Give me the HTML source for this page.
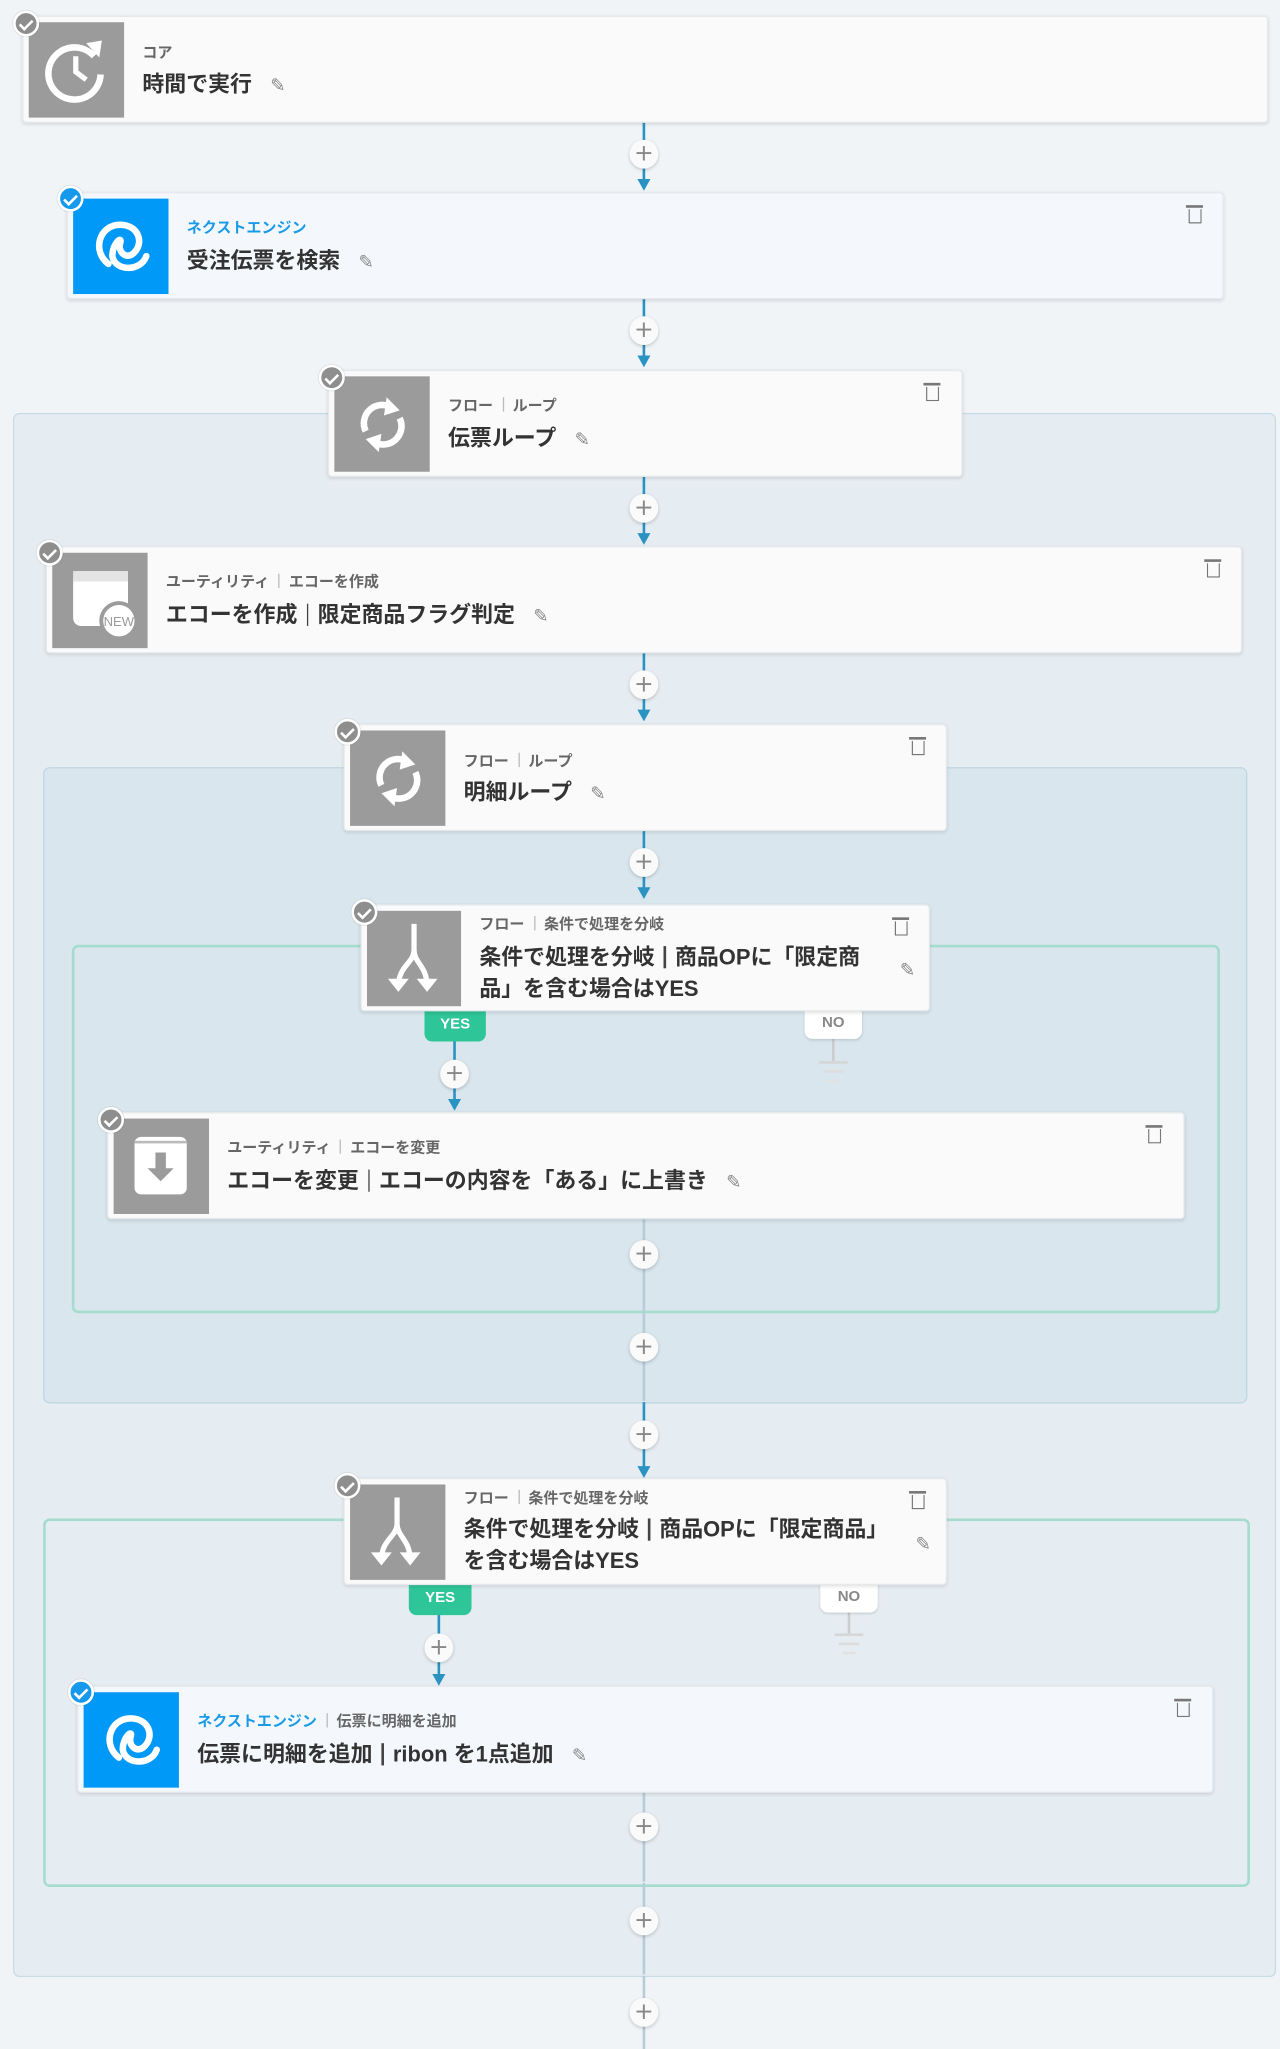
<!DOCTYPE html>
<html><head><meta charset="utf-8">
<style>
html,body{margin:0;padding:0;width:1280px;height:2049px;overflow:hidden;background:#f0f4f7;}
#s{position:absolute;left:0;top:0;width:980px;height:1568px;transform:scale(1.30612,1.30676);transform-origin:0 0;font-family:"Liberation Sans","Noto Sans CJK JP",sans-serif;}
.a{position:absolute;}
.box{position:absolute;border-radius:5px;}
.card{position:absolute;background:#fafafa;border:1px solid #e6e9ec;border-radius:3px;box-shadow:0 1px 3px rgba(0,0,0,0.12);}
.card.ne{background:#f4f8fc;}
.ic{position:absolute;left:4px;top:4px;width:73px;height:73px;background:#9b9b9b;}
.ne .ic{background:#0099f7;}
.sub{position:absolute;font-size:11.5px;color:#666;white-space:nowrap;font-weight:bold;}
.sub .b{color:#1a9be8;}
.sep{display:inline-block;width:1px;height:11px;background:#bbb;margin:0 7px;vertical-align:-1px;}
.tt{position:absolute;font-size:16.8px;color:#333;font-weight:bold;white-space:nowrap;line-height:24px;}
.tsep{display:inline-block;width:1.5px;height:17px;background:#444;margin:0 7px;vertical-align:-3px;}
.pen{color:#888;font-size:14px;font-weight:normal;margin-left:14px;font-family:"DejaVu Sans",sans-serif;}
.tr{position:absolute;width:10px;height:11px;border:1.6px solid #777;border-top:none;border-radius:0 0 1px 1px;box-sizing:border-box;}
.tr:before{content:"";position:absolute;left:-3px;top:-3px;width:13px;height:2px;background:#777;}
.chk{position:absolute;width:20px;height:20px;border-radius:50%;background:#8e8e8e;border:2px solid #fff;box-sizing:border-box;box-shadow:0 0 1px rgba(0,0,0,.3);}
.chk:after{content:"";position:absolute;left:5px;top:3px;width:4px;height:8px;border:solid #fff;border-width:0 2px 2px 0;transform:rotate(45deg);}
.chk.bl{background:#1699ec;}
.ln{position:absolute;width:2px;background:#2a93c2;}
.ln.l{background:#b6ccd8;}
.arr{position:absolute;width:0;height:0;border-left:5px solid transparent;border-right:5px solid transparent;border-top:9px solid #2a93c2;}
.pl{position:absolute;width:22px;height:22px;border-radius:50%;background:#fafafa;box-shadow:0 1px 3px rgba(0,0,0,.2);color:#888;font-size:18px;line-height:21px;text-align:center;font-family:"DejaVu Sans",sans-serif;}
.tag{position:absolute;font-size:11.5px;font-weight:bold;text-align:center;border-radius:0 0 6px 6px;line-height:22px;}
</style></head><body>
<div id="s">
<div class="box" style="left:10px;top:316px;width:965px;height:1195px;background:#e6edf2;border:1.5px solid #c8dbe6;"></div>
<div class="box" style="left:33px;top:587px;width:920px;height:485px;background:#d9e6ee;border:1.5px solid #bfd6e3;"></div>
<div class="box" style="left:55px;top:723px;width:875px;height:278px;background:#d9e6ee;border:2px solid #a5dccd;"></div>
<div class="box" style="left:33px;top:1162px;width:920px;height:278px;background:#e6edf2;border:2px solid #a5dccd;"></div>

<div class="ln" style="left:492px;top:93px;height:48px"></div><div class="arr" style="left:488px;top:137px"></div><div class="pl" style="left:482px;top:107px">+</div>
<div class="ln" style="left:492px;top:227px;height:48px"></div><div class="arr" style="left:488px;top:272px"></div><div class="pl" style="left:482px;top:242px">+</div>
<div class="ln" style="left:492px;top:364px;height:46px"></div><div class="arr" style="left:488px;top:408px"></div><div class="pl" style="left:482px;top:378px">+</div>
<div class="ln" style="left:492px;top:498px;height:48px"></div><div class="arr" style="left:488px;top:543px"></div><div class="pl" style="left:482px;top:513px">+</div>
<div class="ln" style="left:492px;top:634px;height:48px"></div><div class="arr" style="left:488px;top:679px"></div><div class="pl" style="left:482px;top:649px">+</div>
<div class="ln" style="left:347px;top:796px;height:48px"></div><div class="arr" style="left:343px;top:841px"></div><div class="pl" style="left:337px;top:811px">+</div>
<div class="ln l" style="left:492px;top:932px;height:70px"></div><div class="pl" style="left:482px;top:949px">+</div>
<div class="ln l" style="left:492px;top:1002px;height:70px"></div><div class="pl" style="left:482px;top:1020px">+</div>
<div class="ln" style="left:492px;top:1073px;height:52px"></div><div class="arr" style="left:488px;top:1122px"></div><div class="pl" style="left:482px;top:1087px">+</div>
<div class="ln" style="left:335px;top:1235px;height:48px"></div><div class="arr" style="left:331px;top:1281px"></div><div class="pl" style="left:325px;top:1250px">+</div>
<div class="ln l" style="left:492px;top:1370px;height:70px"></div><div class="pl" style="left:482px;top:1387px">+</div>
<div class="ln l" style="left:492px;top:1441px;height:70px"></div><div class="pl" style="left:482px;top:1459px">+</div>
<div class="ln l" style="left:492px;top:1512px;height:56px"></div><div class="pl" style="left:482px;top:1529px">+</div>

<div class="a" style="left:637px;top:795px;width:1.5px;height:17px;background:#ccc"></div>
<div class="a" style="left:627px;top:812px;width:22px;height:2px;background:#d6d6d6"></div>
<div class="a" style="left:630px;top:819px;width:16px;height:2px;background:#ddd"></div>
<div class="a" style="left:633px;top:826px;width:10px;height:2px;background:#e2e2e2"></div>
<div class="a" style="left:649px;top:1234px;width:1.5px;height:16px;background:#ccc"></div>
<div class="a" style="left:639px;top:1250px;width:22px;height:2px;background:#d6d6d6"></div>
<div class="a" style="left:642px;top:1257px;width:16px;height:2px;background:#ddd"></div>
<div class="a" style="left:645px;top:1264px;width:10px;height:2px;background:#e2e2e2"></div>

<div class="tag" style="left:325px;top:773px;width:47px;height:24px;background:#2ec598;color:#fff;">YES</div>
<div class="tag" style="left:616px;top:772px;width:44px;height:23px;background:#fff;color:#888;box-shadow:0 1px 2px rgba(0,0,0,.12)">NO</div>
<div class="tag" style="left:313px;top:1212px;width:48px;height:24px;background:#2ec598;color:#fff;">YES</div>
<div class="tag" style="left:628px;top:1211px;width:44px;height:23px;background:#fff;color:#888;box-shadow:0 1px 2px rgba(0,0,0,.12)">NO</div>

<div class="card" style="left:17px;top:12px;width:952px;height:80px;">
 <div class="ic"><svg width="73" height="73" viewBox="0 0 73 73"><path d="M50 26 A20 20 0 1 0 55 40" fill="none" stroke="#fff" stroke-width="5"/><path d="M44 16 L56 14 L54 27 Z" fill="#fff"/><path d="M36 26 V38 L44 44" fill="none" stroke="#fff" stroke-width="4"/></svg></div>
 <div class="sub" style="left:91px;top:19px;">コア</div>
 <div class="tt" style="left:91px;top:40px;">時間で実行<span class="pen">✎</span></div>
</div>
<div class="chk" style="left:10px;top:8px"></div>

<div class="card ne" style="left:51px;top:147px;width:884px;height:80px;">
 <div class="ic"><svg width="73" height="73" viewBox="0 0 73 73"><path d="M27 50 C14 40 20 20 36 20 C50 20 55 34 46 42 C40 47 34 40 36 34 C38 28 30 34 30 44 C32 56 52 56 56 44" fill="none" stroke="#fff" stroke-width="5" stroke-linecap="round"/></svg></div>
 <div class="sub" style="left:91px;top:18px;"><span class="b">ネクストエンジン</span></div>
 <div class="tt" style="left:91px;top:40px;">受注伝票を検索<span class="pen">✎</span></div>
 <div class="tr" style="left:858px;top:12px"></div>
</div>
<div class="chk bl" style="left:44px;top:142px"></div>

<div class="card" style="left:251px;top:283px;width:484px;height:80px;">
 <div class="ic"><svg width="73" height="73" viewBox="0 0 73 73"><path d="M24 42 A14 14 0 0 1 44 24" fill="none" stroke="#fff" stroke-width="5"/><path d="M40 16 L50 26 L38 30 Z" fill="#fff"/><path d="M50 32 A14 14 0 0 1 30 50" fill="none" stroke="#fff" stroke-width="5"/><path d="M34 58 L24 48 L36 44 Z" fill="#fff"/></svg></div>
 <div class="sub" style="left:91px;top:18px;">フロー<span class="sep"></span>ループ</div>
 <div class="tt" style="left:91px;top:40px;">伝票ループ<span class="pen">✎</span></div>
 <div class="tr" style="left:457px;top:12px"></div>
</div>
<div class="chk" style="left:244px;top:279px"></div>

<div class="card" style="left:35px;top:418px;width:914px;height:80px;">
 <div class="ic"><svg width="73" height="73" viewBox="0 0 73 73"><rect x="16" y="14" width="42" height="42" rx="6" fill="#fff"/><rect x="16" y="14" width="42" height="8" fill="#e4e4e4"/><circle cx="51" cy="52" r="15" fill="#9b9b9b"/><circle cx="51" cy="52" r="12" fill="#fff"/><text x="51" y="56" font-size="10" text-anchor="middle" fill="#9b9b9b" font-family="Liberation Sans">NEW</text></svg></div>
 <div class="sub" style="left:91px;top:18px;">ユーティリティ<span class="sep"></span>エコーを作成</div>
 <div class="tt" style="left:91px;top:40px;">エコーを作成<span class="tsep"></span>限定商品フラグ判定<span class="pen">✎</span></div>
 <div class="tr" style="left:888px;top:12px"></div>
</div>
<div class="chk" style="left:28px;top:413px"></div>

<div class="card" style="left:263px;top:554px;width:460px;height:80px;">
 <div class="ic"><svg width="73" height="73" viewBox="0 0 73 73"><path d="M24 42 A14 14 0 0 1 44 24" fill="none" stroke="#fff" stroke-width="5"/><path d="M40 16 L50 26 L38 30 Z" fill="#fff"/><path d="M50 32 A14 14 0 0 1 30 50" fill="none" stroke="#fff" stroke-width="5"/><path d="M34 58 L24 48 L36 44 Z" fill="#fff"/></svg></div>
 <div class="sub" style="left:91px;top:19px;">フロー<span class="sep"></span>ループ</div>
 <div class="tt" style="left:91px;top:40px;">明細ループ<span class="pen">✎</span></div>
 <div class="tr" style="left:434px;top:12px"></div>
</div>
<div class="chk" style="left:256px;top:550px"></div>

<div class="card" style="left:276px;top:692px;width:434px;height:80px;">
 <div class="ic" style="width:72px"><svg width="72" height="73" viewBox="0 0 72 73"><path d="M36 10 V30 C36 40 24 42 24 58 M36 30 C36 40 46 42 46 58" fill="none" stroke="#fff" stroke-width="4"/><path d="M16 52 L32 52 L24 62 Z M38 52 L54 52 L46 62 Z" fill="#fff"/></svg></div>
 <div class="sub" style="left:90px;top:6px;">フロー<span class="sep"></span>条件で処理を分岐</div>
 <div class="tt" style="left:90px;top:28px;">条件で処理を分岐<span class="tsep"></span>商品OPに「限定商<br>品」を含む場合はYES</div>
 <span class="pen a" style="left:412px;top:42px;margin:0">✎</span>
 <div class="tr" style="left:408px;top:12px"></div>
</div>
<div class="chk" style="left:269px;top:688px"></div>

<div class="card" style="left:82px;top:851px;width:823px;height:80px;">
 <div class="ic"><svg width="73" height="73" viewBox="0 0 73 73"><rect x="16" y="14" width="40" height="44" rx="5" fill="#fff"/><rect x="16" y="17" width="40" height="2" fill="#bbb"/><path d="M32 26 V38 H26 L36 48 L46 38 H40 V26 Z" fill="#9b9b9b"/></svg></div>
 <div class="sub" style="left:91px;top:18px;">ユーティリティ<span class="sep"></span>エコーを変更</div>
 <div class="tt" style="left:91px;top:40px;">エコーを変更<span class="tsep"></span>エコーの内容を「ある」に上書き<span class="pen">✎</span></div>
 <div class="tr" style="left:796px;top:12px"></div>
</div>
<div class="chk" style="left:75px;top:847px"></div>

<div class="card" style="left:263px;top:1131px;width:460px;height:80px;">
 <div class="ic"><svg width="73" height="73" viewBox="0 0 73 73"><path d="M36 10 V30 C36 40 24 42 24 58 M36 30 C36 40 46 42 46 58" fill="none" stroke="#fff" stroke-width="4"/><path d="M16 52 L32 52 L24 62 Z M38 52 L54 52 L46 62 Z" fill="#fff"/></svg></div>
 <div class="sub" style="left:91px;top:6px;">フロー<span class="sep"></span>条件で処理を分岐</div>
 <div class="tt" style="left:91px;top:27px;">条件で処理を分岐<span class="tsep"></span>商品OPに「限定商品」<br>を含む場合はYES</div>
 <span class="pen a" style="left:437px;top:42px;margin:0">✎</span>
 <div class="tr" style="left:434px;top:12px"></div>
</div>
<div class="chk" style="left:256px;top:1127px"></div>

<div class="card ne" style="left:59px;top:1290px;width:868px;height:80px;">
 <div class="ic"><svg width="73" height="73" viewBox="0 0 73 73"><path d="M27 50 C14 40 20 20 36 20 C50 20 55 34 46 42 C40 47 34 40 36 34 C38 28 30 34 30 44 C32 56 52 56 56 44" fill="none" stroke="#fff" stroke-width="5" stroke-linecap="round"/></svg></div>
 <div class="sub" style="left:91px;top:18px;"><span class="b">ネクストエンジン</span><span class="sep"></span>伝票に明細を追加</div>
 <div class="tt" style="left:91px;top:40px;">伝票に明細を追加<span class="tsep"></span>ribon を1点追加<span class="pen">✎</span></div>
 <div class="tr" style="left:841px;top:12px"></div>
</div>
<div class="chk bl" style="left:52px;top:1285px"></div>
</div>
</body></html>
